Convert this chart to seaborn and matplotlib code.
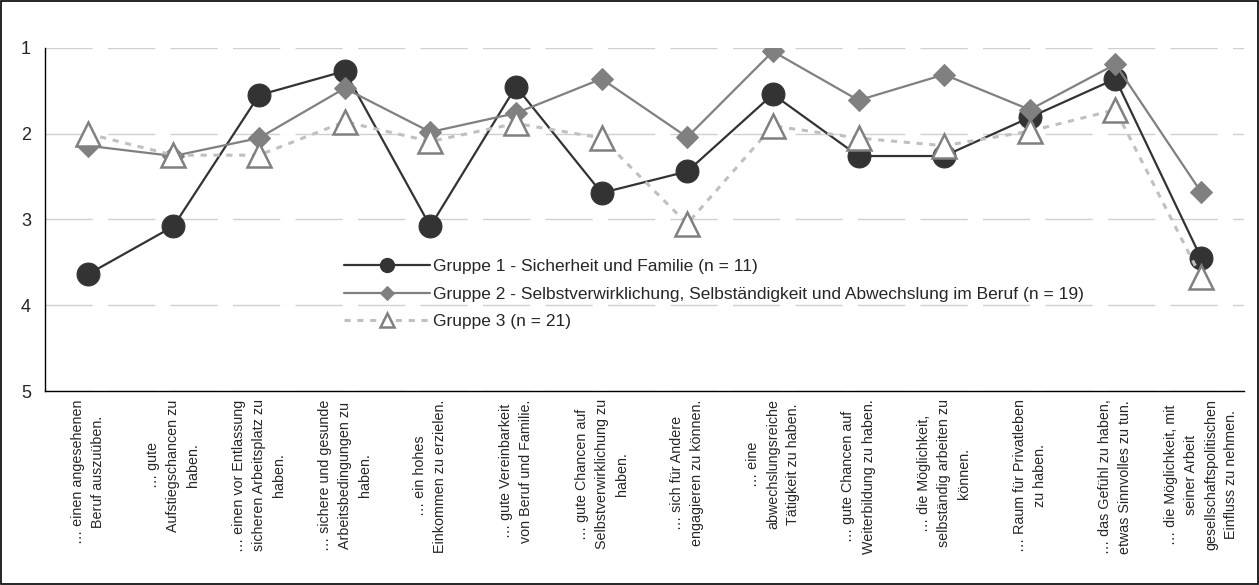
import numpy as np
import pandas as pd
import matplotlib
matplotlib.use('Agg')
import matplotlib.pyplot as plt
import seaborn as sns
from matplotlib.patches import Rectangle

# ---- data (1 = hohe Bedeutung, 5 = geringe) ----
items = [
    "… einen angesehenen\nBeruf auszuüben.",
    "… gute\nAufstiegschancen zu\nhaben.",
    "… einen vor Entlassung\nsicheren Arbeitsplatz zu\nhaben.",
    "… sichere und gesunde\nArbeitsbedingungen zu\nhaben.",
    "… ein hohes\nEinkommen zu erzielen.",
    "… gute Vereinbarkeit\nvon Beruf und Familie.",
    "… gute Chancen auf\nSelbstverwirklichung zu\nhaben.",
    "… sich für Andere\nengagieren zu können.",
    "… eine\nabwechslungsreiche\nTätigkeit zu haben.",
    "… gute Chancen auf\nWeiterbildung zu haben.",
    "… die Möglichkeit,\nselbständig arbeiten zu\nkönnen.",
    "… Raum für Privatleben\nzu haben.",
    "… das Gefühl zu haben,\netwas Sinnvolles zu tun.",
    "… die Möglichkeit, mit\nseiner Arbeit\ngesellschaftspolitischen\nEinfluss zu nehmen.",
]
gruppe1 = [3.64, 3.08, 1.55, 1.27, 3.08, 1.45, 2.69, 2.44, 1.54, 2.26, 2.26, 1.81, 1.36, 3.45]
gruppe2 = [2.14, 2.26, 2.05, 1.47, 1.98, 1.76, 1.36, 2.04, 1.04, 1.61, 1.31, 1.72, 1.19, 2.68]
gruppe3 = [2.00, 2.25, 2.25, 1.86, 2.09, 1.88, 2.05, 3.05, 1.91, 2.05, 2.14, 1.97, 1.72, 3.67]
labels = [
    "Gruppe 1 - Sicherheit und Familie (n = 11)",
    "Gruppe 2 - Selbstverwirklichung, Selbständigkeit und Abwechslung im Beruf (n = 19)",
    "Gruppe 3 (n = 21)",
]

sns.set_style('white')
plt.rcParams['font.family'] = ['Liberation Sans', 'DejaVu Sans']

pos = np.arange(len(items))

fig = plt.figure(figsize=(12.59, 5.85), dpi=100)
ax = fig.add_axes([0.0357, 0.3316, 0.9523, 0.5864])

sns.lineplot(x=pos, y=gruppe1, ax=ax, color='#333333', linewidth=1.6,
             marker='o', markersize=16.5, markerfacecolor='#333333',
             markeredgecolor='#333333', label=labels[0], errorbar=None, zorder=3)
sns.lineplot(x=pos, y=gruppe2, ax=ax, color='#808080', linewidth=1.6,
             marker='D', markersize=11.5, markerfacecolor='#808080',
             markeredgecolor='#808080', label=labels[1], errorbar=None, zorder=4)
sns.lineplot(x=pos, y=gruppe3, ax=ax, color='#c0c0c0', linewidth=2.2,
             linestyle=(0, (2.0, 2.2)), marker='^', markersize=17,
             markerfacecolor='white', markeredgecolor='#808080',
             markeredgewidth=1.8, label=labels[2], errorbar=None, zorder=5)

ax.set_xlim(-0.5, len(items) - 0.5)
ax.set_ylim(5, 1)
ax.set_yticks([1, 2, 3, 4, 5])
ax.set_xticks(pos)
ax.set_xticklabels(items, rotation=90, ha='center', va='top',
                   multialignment='center', fontsize=10.3, linespacing=1.55)
ax.set_xticks(np.arange(-0.5, len(items), 1.0), minor=True)
ax.tick_params(axis='x', which='major', length=0, pad=6)
ax.tick_params(axis='x', which='minor', length=5, width=1, color='black', direction='out')
ax.tick_params(axis='y', length=6, width=1, color='black', direction='out',
               labelsize=13, pad=4)
ax.set_xlabel('')
ax.set_ylabel('')

ax.yaxis.grid(True, color='#d0d0d0', linewidth=1, linestyle=(0, (34, 11)))
ax.xaxis.grid(False)
ax.set_axisbelow(True)
for s in ['top', 'right']:
    ax.spines[s].set_visible(False)
for s in ['left', 'bottom']:
    ax.spines[s].set_color('black')
    ax.spines[s].set_linewidth(1)

ax.legend(loc='upper left', bbox_to_anchor=(0.244, 0.405), frameon=False,
          fontsize=12.5, handlelength=4.9, handletextpad=0.2, markerscale=0.62,
          labelspacing=0.72, borderaxespad=0)

fig.add_artist(Rectangle((0.0008, 0.0012), 0.9984, 0.9976, transform=fig.transFigure,
                         fill=False, edgecolor='black', linewidth=1.2))

fig.savefig('out.png', dpi=100)
plt.close(fig)
